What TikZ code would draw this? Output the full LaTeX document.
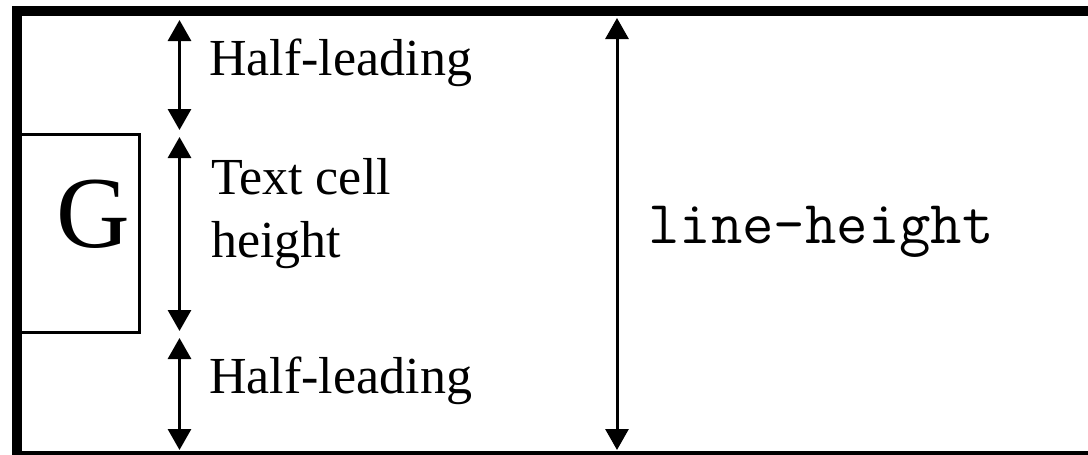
\documentclass[tikz,border=0pt]{standalone}
\usepackage{fontspec}
\setmainfont{Liberation Serif}
\usepackage{tikz}
\usetikzlibrary{arrows.meta}
\tikzset{dimline/.style={line width=3pt, {Triangle[length=21pt,width=23pt]}-{Triangle[length=21pt,width=23pt]}}}
\tikzset{lbl/.style={inner sep=0pt, anchor=base west, font=\fontsize{52}{63}\selectfont}}

\begin{document}
\begin{tikzpicture}[x=1pt,y=-1pt]
  \useasboundingbox (0,0) rectangle (1088,455);
  \clip (0,0) rectangle (1088,455);
  % frame
  \draw[line width=10pt] (1100,11) -- (17,11) -- (17,456) -- (1100,456);
  % glyph box
  \node[draw, line width=3pt, minimum width=122.5pt, minimum height=198.5pt, inner sep=0pt]
    (gbox) at (78.25,233.25) {};
  \node[inner sep=0pt, anchor=base west, font=\fontsize{102}{102}\selectfont] (glyph) at (56,247) {G};
  % arrow ends
  \foreach \n/\y in {
    t1/20,
    t2/130,
    t3/137,
    t4/331,
    t5/338,
    t6/450%
  } {
    \coordinate (\n) at (179.5,\y);
  }
  \coordinate (lh1) at (617,18);
  \coordinate (lh2) at (617,450);
  \foreach \u/\v in {
    t1/t2,
    t3/t4,
    t5/t6,
    lh1/lh2%
  }{
    \draw[dimline] (\u) -- (\v);
  }
  % labels
  \node[lbl] (halftop) at (209,75) {Half-leading};
  \node[lbl, align=left] (cell) at (211,257) {Text cell\\height};
  \node[lbl] (halfbot) at (209,393) {Half-leading};
  \node[lbl, font=\fontsize{61}{61}\ttfamily] (lineheight) at (648,243) {line-height};
\end{tikzpicture}
\end{document}
